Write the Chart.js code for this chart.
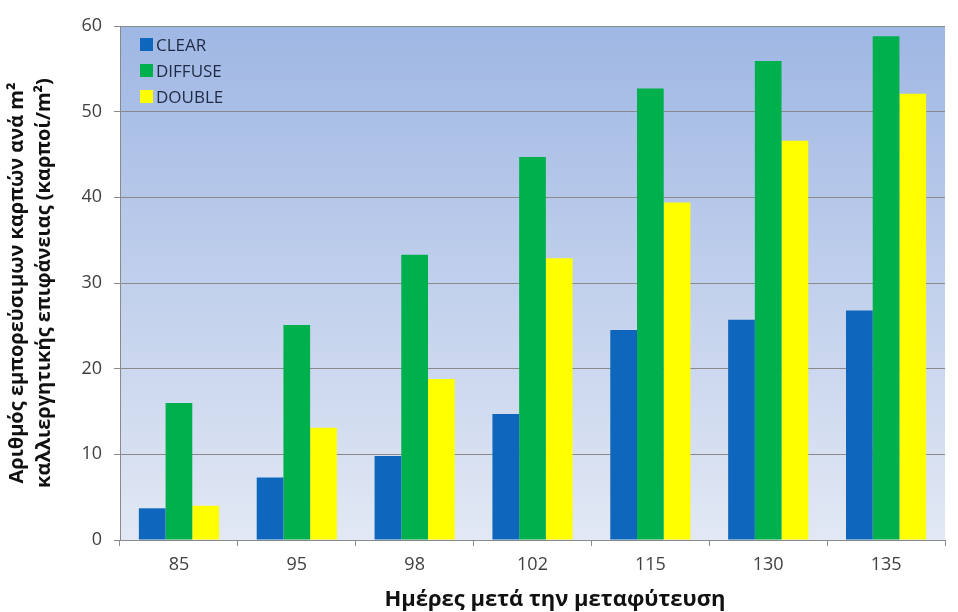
<!DOCTYPE html>
<html>
<head>
<meta charset="utf-8">
<script src="https://cdn.jsdelivr.net/npm/chart.js"></script>
<style>
  html, body { margin: 0; padding: 0; background: #fff; }
  #wrap { position: relative; width: 958px; height: 612px; overflow: hidden; }
  #legend { position: absolute; left: 140px; top: 31px; font: 17px 'Open Sans', Arial, sans-serif; color: #1f2a44; }
  #legend div { display: flex; align-items: center; height: 26px; }
  #legend span.sw { width: 13px; height: 13px; margin-right: 3px; display: inline-block; }
  #xtitle { position: absolute; left: 355px; width: 400px; top: 584px; text-align: center;
            font: bold 22px 'Open Sans', Arial, sans-serif; color: #111; line-height: 26px; }
</style>
</head>
<body>
<div id="wrap">
  <canvas id="chart" width="958" height="612"></canvas>
  <div id="legend"></div>
  <div id="xtitle">Ημέρες μετά την μεταφύτευση</div>
</div>
<script>
// ── Datos ──────────────────────────────────────────────
const days = ['85', '95', '98', '102', '115', '130', '135'];
const clearVals   = [3.7, 7.3, 9.8, 14.7, 24.5, 25.7, 26.8];
const diffuseVals = [16.0, 25.1, 33.3, 44.7, 52.7, 55.9, 58.8];
const doubleVals  = [4.0, 13.1, 18.8, 32.9, 39.4, 46.6, 52.1];
const yTicks = [0, 10, 20, 30, 40, 50, 60];

const series = [
  { label: 'CLEAR',   data: clearVals,   color: '#0f67bd' },
  { label: 'DIFFUSE', data: diffuseVals, color: '#00b04c' },
  { label: 'DOUBLE',  data: doubleVals,  color: '#ffff00' }
];

// fondo degradado del área de trazado
const bgPlugin = {
  id: 'plotBg',
  beforeDraw(chart) {
    const { ctx, chartArea: a } = chart;
    const g = ctx.createLinearGradient(0, a.top, 0, a.bottom);
    g.addColorStop(0, '#9fb7e4');
    g.addColorStop(1, '#e2e8f4');
    ctx.save();
    ctx.fillStyle = g;
    ctx.fillRect(a.left, a.top, a.right - a.left, a.bottom - a.top);
    ctx.restore();
  }
};

const font = "'Open Sans', Arial, sans-serif";

new Chart(document.getElementById('chart'), {
  type: 'bar',
  data: {
    labels: days,
    datasets: series.map(s => ({
      label: s.label, data: s.data, backgroundColor: s.color,
      barPercentage: 1, categoryPercentage: 0.68, borderWidth: 0
    }))
  },
  options: {
    responsive: false,
    animation: false,
    layout: { padding: { top: 26, right: 13, left: 0, bottom: 0 } },
    plugins: { legend: { display: false }, tooltip: { enabled: false } },
    scales: {
      x: {
        grid: { display: true, drawOnChartArea: false, drawTicks: true, tickLength: 6, color: '#8a8a8a', offset: true },
        border: { color: '#8a8a8a' },
        ticks: { color: '#404040', font: { family: font, size: 18 }, padding: 8 },
        afterFit(scale) { scale.height = 72; }
      },
      y: {
        min: 0, max: 60,
        afterBuildTicks(scale) { scale.ticks = yTicks.map(v => ({ value: v })); },
        grid: { color: '#8a8a8a', tickLength: 6 },
        border: { color: '#8a8a8a' },
        ticks: { color: '#404040', font: { family: font, size: 18 }, padding: 12 },
        title: {
          display: true,
          text: ['Αριθμός εμπορεύσιμων καρπών ανά m²', 'καλλιεργητικής επιφάνειας (καρποί/m²)'],
          color: '#111', font: { family: font, size: 20, weight: 'bold', lineHeight: 1.35 },
          padding: { top: 4, bottom: 0 }
        },
        afterFit(scale) { scale.width = 120; }
      }
    }
  },
  plugins: [bgPlugin]
});

// leyenda HTML dentro del área
document.getElementById('legend').innerHTML = series.map(s =>
  `<div><span class="sw" style="background:${s.color}"></span>${s.label}</div>`).join('');
</script>
</body>
</html>
